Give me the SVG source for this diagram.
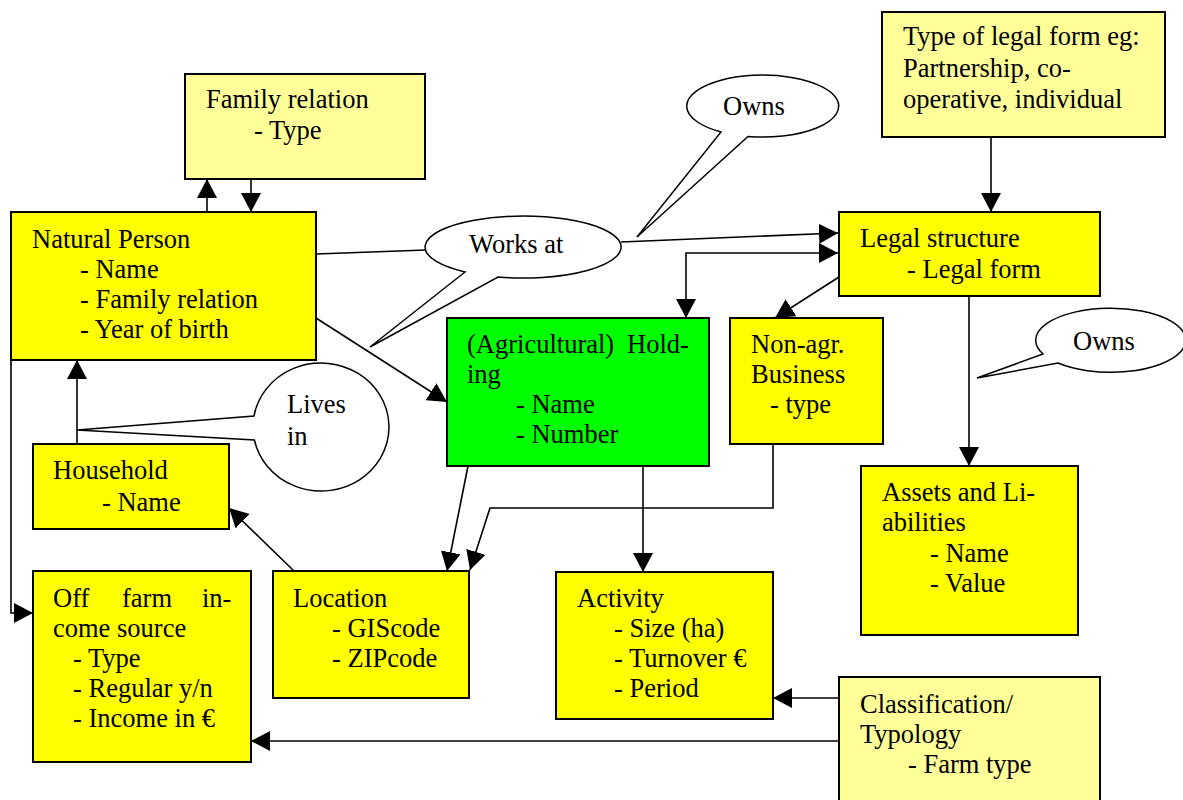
<svg xmlns="http://www.w3.org/2000/svg" width="1183" height="800" viewBox="0 0 1183 800" font-family="'Liberation Serif', 'Times New Roman', Times, serif">
<style>
.box{stroke:#000;stroke-width:2}
.y{fill:#FFFF00}
.ly{fill:#FFFF99}
.g{fill:#00FF00}
.co{fill:#fff;stroke:#000;stroke-width:1.5}
text{font-size:26.5px;fill:#000}
.c{fill:none;stroke:#000;stroke-width:1.6}
</style>
<defs>
<marker id="ah" markerUnits="userSpaceOnUse" markerWidth="20" markerHeight="20" refX="19" refY="10" orient="auto-start-reverse" viewBox="0 0 20 20">
<path d="M0,0 L19,10 L0,20 z" fill="#000"/>
</marker>
</defs>
<rect width="1183" height="800" fill="#fff"/>

<g id="connectors">
<path class="c" d="M207,212 L207,179" marker-end="url(#ah)"/>
<path class="c" d="M251,179 L251,212" marker-end="url(#ah)"/>
<path class="c" d="M316,254 L426,250"/>
<path class="c" d="M621,242 L838,233" marker-end="url(#ah)"/>
<path class="c" d="M838,253 L686,253 L686,318" marker-start="url(#ah)" marker-end="url(#ah)"/>
<path class="c" d="M839,277 L775,318" marker-end="url(#ah)"/>
<path class="c" d="M991,137 L991,212" marker-end="url(#ah)"/>
<path class="c" d="M969,296 L969,466" marker-end="url(#ah)"/>
<path class="c" d="M316,318 L447,402" marker-end="url(#ah)"/>
<path class="c" d="M77,444 L77,360" marker-end="url(#ah)"/>
<path class="c" d="M11,360 L11,613 L33,613" marker-end="url(#ah)"/>
<path class="c" d="M294,571 L229,508" marker-end="url(#ah)"/>
<path class="c" d="M468,466 L447,571" marker-end="url(#ah)"/>
<path class="c" d="M773,444 L773,508 L490,508 L470,570" marker-end="url(#ah)"/>
<path class="c" d="M643,466 L643,572" marker-end="url(#ah)"/>
<path class="c" d="M839,698 L773,698" marker-end="url(#ah)"/>
<path class="c" d="M839,741 L251,741" marker-end="url(#ah)"/>
</g>

<g id="family-relation">
<rect class="box ly" x="185" y="74" width="240" height="105"/>
<text x="206" y="108">Family relation</text>
<text x="254" y="139">- Type</text>
</g>

<g id="natural-person">
<rect class="box y" x="11" y="212" width="305" height="148"/>
<text x="32" y="248">Natural Person</text>
<text x="80" y="278">- Name</text>
<text x="80" y="308">- Family relation</text>
<text x="80" y="338">- Year of birth</text>
</g>

<g id="type-legal-form">
<rect class="box ly" x="882" y="12" width="283" height="125"/>
<text x="903" y="45">Type of legal form eg:</text>
<text x="903" y="77">Partnership, co-</text>
<text x="903" y="108">operative, individual</text>
</g>

<g id="legal-structure">
<rect class="box y" x="839" y="212" width="261" height="84"/>
<text x="860" y="247">Legal structure</text>
<text x="907" y="278">- Legal form</text>
</g>

<g id="holding">
<rect class="box g" x="447" y="318" width="262" height="148"/>
<text x="467" y="353">(Agricultural)</text>
<text x="627" y="353">Hold-</text>
<text x="467" y="383">ing</text>
<text x="516" y="413">- Name</text>
<text x="516" y="443">- Number</text>
</g>

<g id="non-agr-business">
<rect class="box y" x="730" y="318" width="153" height="126"/>
<text x="751" y="353">Non-agr.</text>
<text x="751" y="383">Business</text>
<text x="770" y="413">- type</text>
</g>

<g id="household">
<rect class="box y" x="33" y="444" width="196" height="85"/>
<text x="53" y="479">Household</text>
<text x="102" y="511">- Name</text>
</g>

<g id="off-farm-income">
<rect class="box y" x="33" y="571" width="218" height="191"/>
<text x="53" y="607">Off</text>
<text x="122" y="607">farm</text>
<text x="202" y="607">in-</text>
<text x="53" y="637">come source</text>
<text x="73" y="667">- Type</text>
<text x="73" y="697">- Regular y/n</text>
<text x="73" y="727">- Income in €</text>
</g>

<g id="location">
<rect class="box y" x="273" y="571" width="196" height="127"/>
<text x="293" y="607">Location</text>
<text x="332" y="637">- GIScode</text>
<text x="332" y="667">- ZIPcode</text>
</g>

<g id="activity">
<rect class="box y" x="556" y="572" width="217" height="147"/>
<text x="577" y="607">Activity</text>
<text x="614" y="637">- Size (ha)</text>
<text x="614" y="667">- Turnover €</text>
<text x="614" y="697">- Period</text>
</g>

<g id="assets-liabilities">
<rect class="box y" x="861" y="466" width="217" height="169"/>
<text x="882" y="501">Assets and Li-</text>
<text x="882" y="531">abilities</text>
<text x="930" y="562">- Name</text>
<text x="930" y="592">- Value</text>
</g>

<g id="classification">
<rect class="box ly" x="839" y="677" width="261" height="130"/>
<text x="860" y="713">Classification/</text>
<text x="860" y="743">Typology</text>
<text x="908" y="773">- Farm type</text>
</g>

<g id="callout-works-at">
<path class="co" d="M498,277 A98,31 0 1 0 465,272 L370,347 Z"/>
<text x="469" y="253">Works at</text>
</g>

<g id="callout-owns-top">
<path class="co" d="M748,136.5 A76,31 0 1 0 721,132 L637,237 Z"/>
<text x="723" y="115">Owns</text>
</g>

<g id="callout-owns-right">
<path class="co" d="M1058,363 A75,32 0 1 0 1043,354 L977,378 Z"/>
<text x="1073" y="350">Owns</text>
</g>

<g id="callout-lives-in">
<path class="co" d="M254.4,440 A68,64 0 1 0 254,416 L77,430 Z"/>
<text x="287" y="413">Lives</text>
<text x="287" y="445">in</text>
</g>
</svg>
